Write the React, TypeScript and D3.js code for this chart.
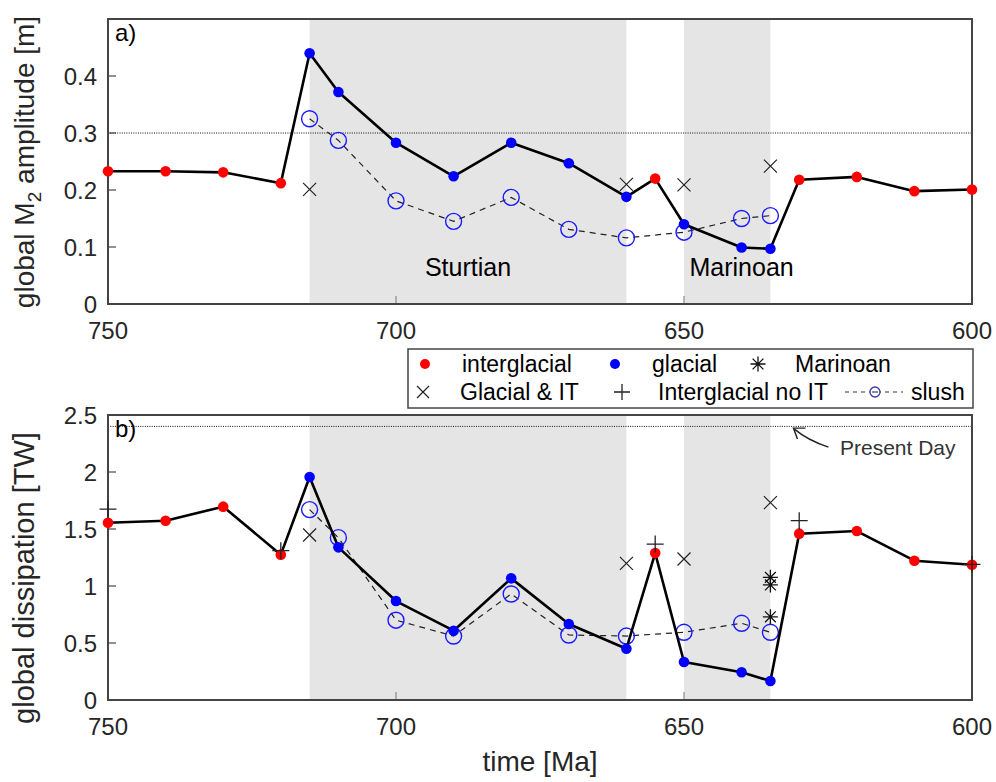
import React from "react";
import * as d3 from "d3";

// time axis [Ma]
const times = [750, 740, 730, 720, 715, 710, 700, 690, 680, 670, 660, 655, 650, 640, 635, 630, 620, 610, 600];
// i = interglacial, g = glacial
const stateType = ["i", "i", "i", "i", "g", "g", "g", "g", "g", "g", "g", "i", "g", "g", "g", "i", "i", "i", "i"];

const ampMain = [0.233, 0.233, 0.231, 0.212, 0.44, 0.372, 0.283, 0.224, 0.283, 0.247, 0.188, 0.22, 0.14, 0.099, 0.097, 0.218, 0.223, 0.198, 0.201];
const dissMain = [1.555, 1.573, 1.696, 1.275, 1.956, 1.339, 0.868, 0.608, 1.067, 0.667, 0.45, 1.289, 0.333, 0.243, 0.167, 1.459, 1.482, 1.222, 1.187];

const slushTimes = [715, 710, 700, 690, 680, 670, 660, 650, 640, 635];
const ampSlush = [0.325, 0.287, 0.181, 0.145, 0.187, 0.131, 0.116, 0.126, 0.15, 0.155];
const dissSlush = [1.67, 1.424, 0.7, 0.561, 0.93, 0.57, 0.561, 0.594, 0.673, 0.594];

const glacialITTimes = [715, 660, 650, 635];
const ampGlacialIT = [0.201, 0.21, 0.209, 0.242];
const dissGlacialIT = [1.447, 1.199, 1.237, 1.731];

const noITTimes = [750, 720, 655, 630, 600];
const dissNoIT = [1.675, 1.31, 1.368, 1.573, 1.19];

const marinoanTimes = [635, 635, 635];
const dissMarinoan = [1.076, 1.009, 0.73];

const shades = [
  [715, 660],
  [650, 635],
];
const xTicks = [750, 700, 650, 600];
const ampTicks = [0, 0.1, 0.2, 0.3, 0.4];
const dissTicks = [0, 0.5, 1, 1.5, 2, 2.5];

const FONT = "'Liberation Sans', Arial, Helvetica, sans-serif";
const AX = "#262626";
const LEFT = 108;
const RIGHT = 972;

const x = d3.scaleLinear().domain([750, 600]).range([LEFT, RIGHT]);

const Cross = ({ cx, cy, s = 6.5 }) => (
  <path d={`M${cx - s},${cy - s}L${cx + s},${cy + s}M${cx - s},${cy + s}L${cx + s},${cy - s}`} stroke="#222" strokeWidth={1.2} fill="none" />
);
const Plus = ({ cx, cy, s = 8.5 }) => (
  <path d={`M${cx - s},${cy}L${cx + s},${cy}M${cx},${cy - s}L${cx},${cy + s}`} stroke="#222" strokeWidth={1.3} fill="none" />
);
const Star = ({ cx, cy, s = 7.5 }) => {
  const d = s * 0.72;
  return (
    <path
      d={`M${cx - s},${cy}L${cx + s},${cy}M${cx},${cy - s}L${cx},${cy + s}M${cx - d},${cy - d}L${cx + d},${cy + d}M${cx - d},${cy + d}L${cx + d},${cy - d}`}
      stroke="#111"
      strokeWidth={1.3}
      fill="none"
    />
  );
};

const Panel = ({ top, bottom, domain, ticks, main, slush, glacialIT, noIT, marinoan, refValue, label, tickFmt }) => {
  const y = d3.scaleLinear().domain(domain).range([bottom, top]);
  const line = d3
    .line()
    .x((d) => x(d[0]))
    .y((d) => y(d[1]));
  const mainPts = times.map((t, i) => [t, main[i]]);
  const slushPts = slushTimes.map((t, i) => [t, slush[i]]);
  return (
    <g>
      {shades.map(([a, b], i) => (
        <rect key={i} x={x(a)} y={top} width={x(b) - x(a)} height={bottom - top} fill="#e5e5e5" />
      ))}
      <line x1={LEFT} x2={RIGHT} y1={y(refValue)} y2={y(refValue)} stroke="#111" strokeWidth={1} strokeDasharray="1,1.3" />
      {/* ticks */}
      {ticks.map((t) => (
        <g key={t}>
          <line x1={LEFT} x2={LEFT + 8} y1={y(t)} y2={y(t)} stroke={AX} strokeWidth={1} />
          <text x={97} y={y(t)} dy="0.36em" textAnchor="end" fontSize={24} fill={AX} fontFamily={FONT}>
            {tickFmt(t)}
          </text>
        </g>
      ))}
      {xTicks.map((t) => (
        <g key={t}>
          <line x1={x(t)} x2={x(t)} y1={bottom} y2={bottom - 8} stroke="#777" strokeWidth={1} />
          <text x={x(t)} y={bottom + 35} textAnchor="middle" fontSize={24} fill={AX} fontFamily={FONT}>
            {t}
          </text>
        </g>
      ))}
      <rect x={LEFT} y={top} width={RIGHT - LEFT} height={bottom - top} fill="none" stroke="#444" strokeWidth={2} />
      {/* slush */}
      <path d={line(slushPts)} fill="none" stroke="#222" strokeWidth={1.2} strokeDasharray="6,5" />
      {slushPts.map((p, i) => (
        <circle key={i} cx={x(p[0])} cy={y(p[1])} r={8} fill="none" stroke="#1a1aff" strokeWidth={1.4} />
      ))}
      <path d={line(mainPts)} fill="none" stroke="#000" strokeWidth={2.6} strokeLinejoin="round" />
      {mainPts.map((p, i) => (
        <circle key={i} cx={x(p[0])} cy={y(p[1])} r={5.3} fill={stateType[i] === "i" ? "#ff0000" : "#0000ff"} />
      ))}
      {glacialIT.map((v, i) => (
        <Cross key={i} cx={x(glacialITTimes[i])} cy={y(v)} />
      ))}
      {noIT &&
        noIT.map((v, i) => <Plus key={i} cx={x(noITTimes[i])} cy={y(v)} />)}
      {marinoan &&
        marinoan.map((v, i) => <Star key={i} cx={x(marinoanTimes[i])} cy={y(v)} />)}
      <text x={115} y={top + 22} fontSize={24} fill="#000" fontFamily={FONT}>
        {label}
      </text>
    </g>
  );
};

export default function App() {
  const ya = d3.scaleLinear().domain([0, 0.5]).range([304, 19]);
  const yb = d3.scaleLinear().domain([0, 2.5]).range([700, 415]);
  const tipX = x(631);
  const tipY = yb(2.385);
  return (
    <svg width={996} height={782} style={{ position: "absolute", left: 0, top: 0, background: "#fff" }}>
      <Panel
        top={19}
        bottom={304}
        domain={[0, 0.5]}
        ticks={ampTicks}
        main={ampMain}
        slush={ampSlush}
        glacialIT={ampGlacialIT}
        refValue={0.3}
        label="a)"
        tickFmt={(t) => (t === 0 ? "0" : t.toFixed(1))}
      />
      <text x={x(687.5)} y={ya(0.05)} textAnchor="middle" fontSize={25} fontFamily={FONT}>
        Sturtian
      </text>
      <text x={x(640)} y={ya(0.05)} textAnchor="middle" fontSize={25} fontFamily={FONT}>
        Marinoan
      </text>
      <Panel
        top={415}
        bottom={700}
        domain={[0, 2.5]}
        ticks={dissTicks}
        main={dissMain}
        slush={dissSlush}
        glacialIT={dissGlacialIT}
        noIT={dissNoIT}
        marinoan={dissMarinoan}
        refValue={2.4}
        label="b)"
        tickFmt={(t) => String(t)}
      />
      {/* Present Day annotation */}
      <path d={`M${tipX + 35},${tipY + 19} Q${tipX + 14},${tipY + 12} ${tipX + 1},${tipY + 1}`} fill="none" stroke="#222" strokeWidth={1.4} />
      <path d={`M${tipX + 12},${tipY} L${tipX},${tipY} L${tipX + 4},${tipY + 11}`} fill="none" stroke="#222" strokeWidth={1.4} />
      <text x={840} y={455} fontSize={21} fill="#333" fontFamily={FONT}>
        Present Day
      </text>

      {/* axis labels */}
      <text transform={`translate(34,162) rotate(-90)`} textAnchor="middle" fontSize={28} fill={AX} fontFamily={FONT}>
        global M<tspan fontSize={19} dy={7}>2</tspan>
        <tspan dy={-7}> amplitude [m]</tspan>
      </text>
      <text transform={`translate(34,578) rotate(-90)`} textAnchor="middle" fontSize={29} fill={AX} fontFamily={FONT}>
        global dissipation [TW]
      </text>
      <text x={540} y={771} textAnchor="middle" fontSize={28} fill={AX} fontFamily={FONT}>
        time [Ma]
      </text>

      {/* legend */}
      <g fontFamily={FONT} fontSize={23} fill="#000">
        <rect x={408} y={349} width={565} height={59} fill="#fff" stroke="#444" strokeWidth={1.5} />
        <circle cx={425} cy={364} r={5} fill="#ff0000" />
        <text x={462} y={372}>interglacial</text>
        <circle cx={615} cy={364} r={5} fill="#0000ff" />
        <text x={652} y={372}>glacial</text>
        <Star cx={758} cy={364} />
        <text x={795} y={372}>Marinoan</text>
        <Cross cx={423} cy={392} s={6} />
        <text x={460} y={400}>Glacial &amp; IT</text>
        <Plus cx={622} cy={392} s={8} />
        <text x={658} y={400}>Interglacial no IT</text>
        <line x1={845} x2={903} y1={392} y2={392} stroke="#333" strokeWidth={1.2} strokeDasharray="4,4" />
        <circle cx={875} cy={392} r={5} fill="#fff" stroke="#3a3a9a" strokeWidth={1.3} />
        <line x1={872} x2={878} y1={392} y2={392} stroke="#3a3a9a" strokeWidth={1.2} />
        <text x={911} y={400}>slush</text>
      </g>
    </svg>
  );
}
